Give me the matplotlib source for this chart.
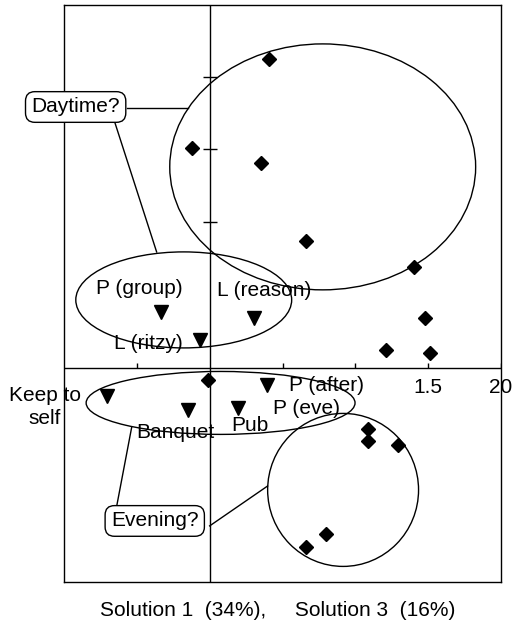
import matplotlib
matplotlib.use("Agg")
import matplotlib.pyplot as plt
from matplotlib.patches import Ellipse

plt.rcParams['font.family'] = ['Liberation Sans', 'DejaVu Sans']

# Solution 1 vs Solution 3 coordinates (diamonds: items, triangles: labelled objects)
diamond_x = [0.41, -0.12, 0.35, 0.66, 1.40, 1.48, 1.21, 1.51, -0.01, 1.09, 1.09, 1.29, 0.80, 0.66]
diamond_y = [2.12, 1.51, 1.41, 0.87, 0.69, 0.34, 0.12, 0.10, -0.08, -0.42, -0.50, -0.53, -1.14, -1.23]

tri_names = ["P (group)", "L (ritzy)", "L (reason)", "Keep to self", "Banquet", "Pub", "P (after)"]
tri_x = [-0.336, -0.069, 0.302, -0.707, -0.151, 0.192, 0.391]
tri_y = [0.384, 0.192, 0.343, -0.192, -0.288, -0.275, -0.117]

label_texts = ["P (group)", "L (ritzy)", "L (reason)", "Keep to\nself", "Banquet", "Pub", "P (after)", "P (eve)"]
label_pos = [(-0.480, 0.542), (-0.419, 0.165), (0.371, 0.535), (-1.132, -0.268),
             (-0.233, -0.446), (0.275, -0.398), (0.803, -0.117), (0.666, -0.275)]

axis_ticks_x = [-0.5, 0.5, 1.0, 1.5]
axis_ticks_y = [1.0, 1.5, 2.0]
tick_labels_x = {1.5: "1.5", 2.0: "20"}

# cluster outlines: (centre x, centre y, width, height)
clusters = [(0.776, 1.380, 2.100, 1.688),
            (-0.178, 0.467, 1.482, 0.659),
            (0.075, -0.240, 1.846, 0.432),
            (0.916, -0.837, 1.036, 1.050)]

FS = 15

fig = plt.figure(figsize=(5.12, 6.24), dpi=100)
ax = fig.add_axes([64 / 512, 1 - 582 / 624, 437 / 512, 577 / 624])
ax.set_xlim(-1.0, 2.0)
ax.set_ylim(-1.469, 2.491)
ax.set_xticks([])
ax.set_yticks([])
for s in ax.spines.values():
    s.set_linewidth(1.0)
    s.set_color('black')

ax.axhline(0, color='black', lw=1.0, zorder=1)
ax.axvline(0, color='black', lw=1.0, zorder=1)
ax.plot(axis_ticks_x + [2.0], [0] * (len(axis_ticks_x) + 1), linestyle='none',
        marker=2, markersize=3.5, color='black', mew=1.0)
ax.plot([0] * len(axis_ticks_y), axis_ticks_y, linestyle='none',
        marker='_', markersize=10, color='black', mew=1.0)
for xv, t in tick_labels_x.items():
    ax.text(xv, -0.137, t, ha='center', va='center', fontsize=FS, clip_on=False)

for cx, cy, w, h in clusters:
    ax.add_patch(Ellipse((cx, cy), w, h, fill=False, edgecolor='black', lw=1.0, zorder=2))

ax.plot(diamond_x, diamond_y, linestyle='none', marker='D', markersize=7.2,
        color='black', zorder=4)
ax.plot(tri_x, tri_y, linestyle='none', marker='v', markersize=10,
        color='black', zorder=4)

for t, (lx, ly) in zip(label_texts, label_pos):
    ax.text(lx, ly, t, ha='center', va='center', fontsize=FS, zorder=5,
            clip_on=False, linespacing=1.25)

# callouts
box = dict(boxstyle='round,pad=0.28,rounding_size=0.45', facecolor='white',
           edgecolor='black', lw=1.0)
ax.plot([-0.570, -0.151], [1.785, 1.785], color='black', lw=1.0, zorder=3)
ax.plot([-0.652, -0.364], [1.688, 0.796], color='black', lw=1.0, zorder=3)
ax.text(-0.920, 1.791, "Daytime?", ha='center', va='center', fontsize=FS,
        bbox=box, zorder=6, clip_on=False)

ax.plot([-0.638, -0.535], [-0.947, -0.405], color='black', lw=1.0, zorder=3)
ax.plot([0.0, 0.398], [-1.084, -0.810], color='black', lw=1.0, zorder=3)
ax.text(-0.377, -1.050, "Evening?", ha='center', va='center', fontsize=FS,
        bbox=box, zorder=6, clip_on=False)

fig.text(278 / 512, 1 - 610 / 624, "Solution 1  (34%),     Solution 3  (16%)",
         ha='center', va='center', fontsize=FS)

fig.savefig("out.png", dpi=100)
